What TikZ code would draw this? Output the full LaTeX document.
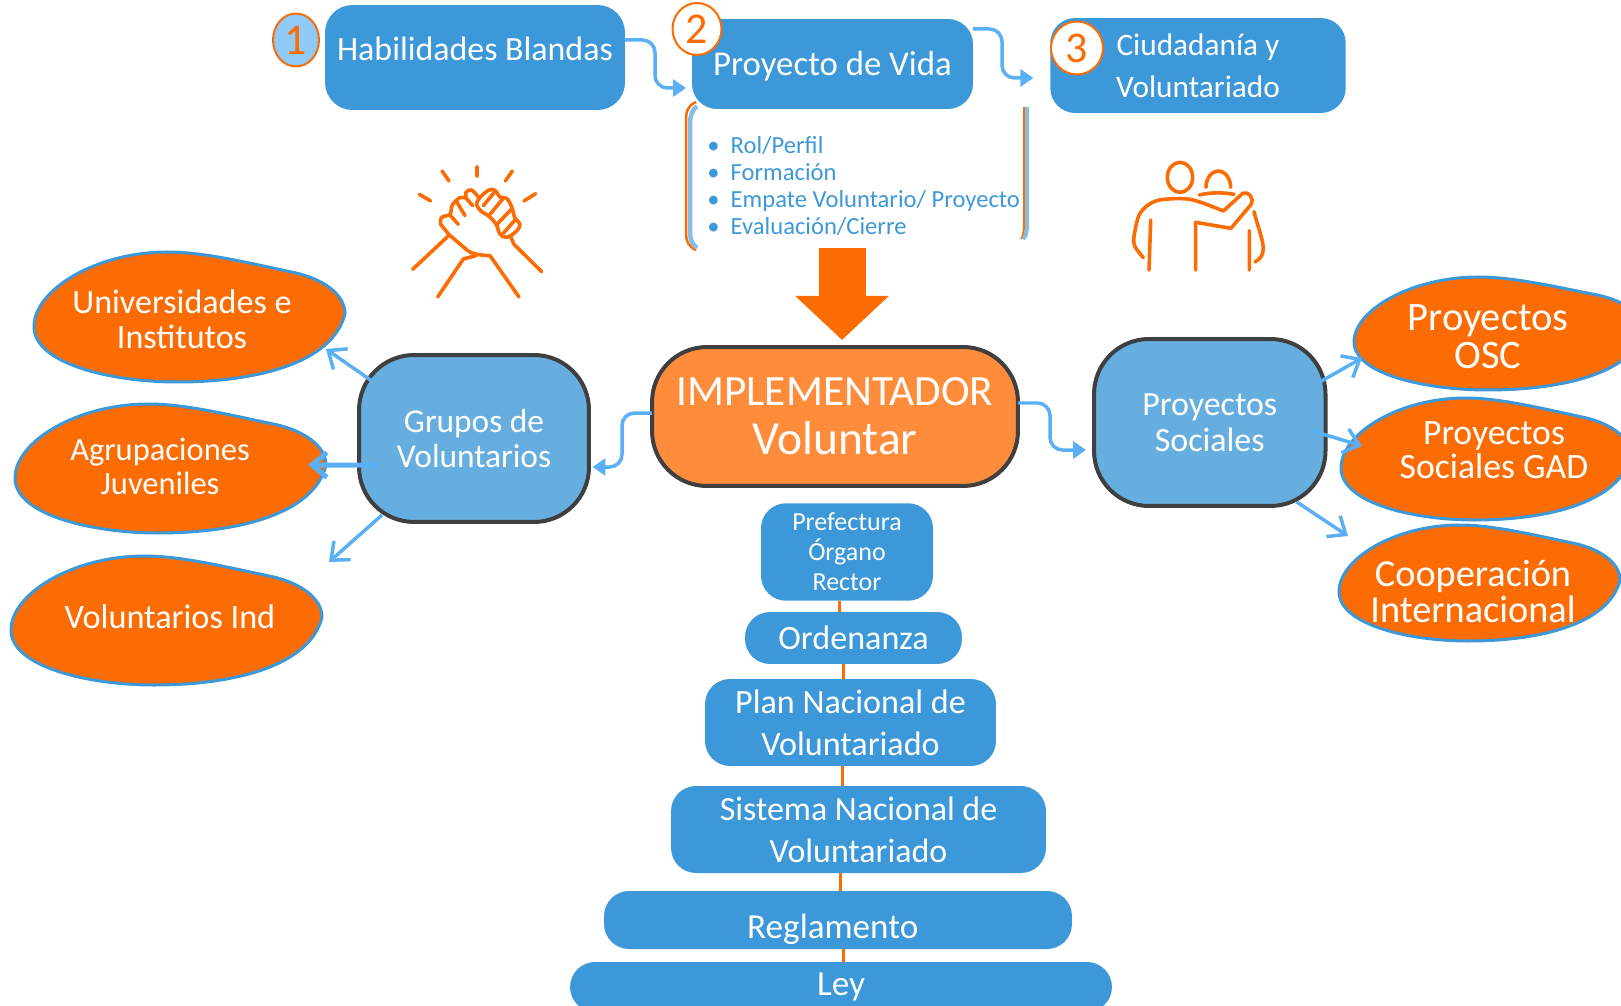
\documentclass[tikz,border=0pt]{standalone}
\usepackage{fontspec}
\setmainfont{Carlito}
\usepackage{xcolor}
\usetikzlibrary{arrows.meta,positioning,shapes.geometric}

\definecolor{boxblue}{HTML}{3C98D8}
\definecolor{softblue}{HTML}{66AEDF}
\definecolor{flowblue}{HTML}{5BB0F5}
\definecolor{pale}{HTML}{90CAF9}
\definecolor{deeporange}{HTML}{FC6C04}
\definecolor{softorange}{HTML}{FF8C3B}
\definecolor{edgegray}{HTML}{3F3F3F}

\newcommand{\fsz}[2]{\fontsize{#1}{#2}\selectfont}
\newcommand{\blobshape}[4]{\draw[blob line,shift={(#1,#2)},xscale=#3,yscale=#4] (-1,.15) .. controls (-1,.72) and (-.5,1) .. (-.08,1) .. controls (.42,1) and (.92,.72) .. (1,-.05) .. controls (1,-.35) and (.86,-.58) .. (.68,-.68) .. controls (.4,-.82) and (.1,-1) .. (-.14,-1) .. controls (-.6,-1) and (-1,-.42) .. (-1,.15) -- cycle;}

\begin{document}
\begin{tikzpicture}[x=.02cm,y=-.02cm,
		main node/.style={rectangle,rounded corners=.5cm,fill=boxblue,text=white,align=center,inner sep=0pt,outer sep=0pt},
		core node/.style={rectangle,rounded corners=1.1cm,draw=edgegray,line width=.08cm,text=white,align=center,inner sep=0pt,outer sep=0pt},
		blob line/.style={fill=deeporange,draw=boxblue,line width=.06cm},
		blob text/.style={text=white,align=center,inner sep=0pt},
		num node/.style={ellipse,draw=deeporange,line width=.04cm,text=deeporange,inner sep=0pt,font=\fsz{25}{28}},
		flow/.style={draw=flowblue,line width=.07cm,rounded corners=.25cm,-{Triangle[length=.26cm,width=.34cm]}},
		barb/.style={draw=flowblue,line width=.07cm,-{Straight Barb[length=.3cm,width=.5cm]}},
		stair/.style={draw=deeporange,line width=.06cm},
		icon/.style={draw=deeporange,line width=.072cm,line cap=round,line join=round}]

		\useasboundingbox (0,0) rectangle (1621,1006);
		\clip (0,0) rectangle (1621,1006);

		\node[main node,minimum width=6cm,minimum height=2.1cm,rounded corners=.55cm,font=\fsz{19.3}{23},text height=9pt,text depth=6pt] (habil) at (475,57.5) {Habilidades Blandas};
		\node[main node,minimum width=5.62cm,minimum height=1.8cm,font=\fsz{19.8}{24},text height=16.3pt,text depth=2.8pt] (vida) at (832.5,64) {Proyecto de Vida};
		\node[main node,minimum width=5.91cm,minimum height=1.9cm,font=\fsz{17.8}{23.8}] (ciud) at (1198,65.5) {Ciudadanía y\\Voluntariado};

		\node[num node,fill=pale,minimum width=.92cm,minimum height=1.06cm] (one) at (296,40) {1};
		\node[num node,fill=white,minimum width=.98cm,minimum height=1.04cm] (two) at (697,29) {2};
		\node[num node,fill=white,minimum width=1.04cm,minimum height=1.06cm] (three) at (1077,48) {3};

		\node[anchor=west,align=left,text=boxblue,inner sep=0pt,font=\fsz{14}{15.3}] (lista) at (707,186) {•\ \ Rol/Perfil\\•\ \ Formación\\•\ \ Empate Voluntario/ Proyecto\\•\ \ Evaluación/Cierre};
		\draw[deeporange,line width=.05cm] (696,102) .. controls (687,106) and (686,112) .. (686,122) -- (686,232) .. controls (686,242) and (689,247) .. (696,250);
		\draw[softblue!80,line width=.09cm] (697,106) .. controls (692,110) and (690,116) .. (690,124) -- (690,230) .. controls (690,240) and (692,244) .. (697,248);
		\draw[deeporange,line width=.04cm] (1024,107) -- (1024,225) .. controls (1024,232) and (1023,236) .. (1021,239);
		\draw[softblue!80,line width=.08cm] (1027,107) -- (1027,225) .. controls (1027,232) and (1026,236) .. (1023,239);

		\node[core node,fill=softorange,minimum width=7.32cm,minimum height=2.78cm,font=\fsz{24.6}{28}] (impl) at (835,416.5) {IMPLEMENTADOR\\{\fsz{27}{28}Voluntar}};
		\node[core node,fill=softblue,minimum width=4.6cm,minimum height=3.34cm,font=\fsz{19}{20}] (grupos) at (474,438.5) {Grupos de\\Voluntarios};
		\node[core node,fill=softblue,minimum width=4.63cm,minimum height=3.34cm,font=\fsz{19.3}{20.5}] (social) at (1209.75,422.5) {Proyectos\\Sociales};

		\blobshape{189.5}{317}{155.5}{65}
		\node[blob text,font=\fsz{19.4}{20}] (uni) at (182,319.5) {Universidades e\\Institutos};
		\blobshape{170.5}{468.5}{155.5}{64.5}
		\node[blob text,font=\fsz{18.5}{19}] (agrup) at (160,466.5) {Agrupaciones\\Juveniles};
		\blobshape{166.5}{620.5}{155.5}{64.5}
		\node[blob text,font=\fsz{19.5}{20}] (indiv) at (170,617) {Voluntarios Ind};
		\blobshape{1499}{333.5}{145}{56.5}
		\node[blob text,font=\fsz{23}{21.5}] (osc) at (1488,337) {Proyectos\\OSC};
		\blobshape{1486}{459}{145}{61}
		\node[blob text,font=\fsz{20.3}{19.5}] (gad) at (1494,450) {Proyectos\\Sociales GAD};
		\blobshape{1479.5}{583}{140.5}{58}
		\node[blob text,font=\fsz{21.8}{21}] (coop) at (1473,591.5) {Cooperación\\Internacional};

		\node[main node,minimum width=3.44cm,minimum height=1.95cm,font=\fsz{14.8}{17}] (prefec) at (847,552) {Prefectura\\Órgano\\Rector};
		\node[main node,minimum width=4.34cm,minimum height=1.04cm,font=\fsz{19.4}{22}] (orden) at (853.5,638) {Ordenanza};
		\node[main node,minimum width=5.82cm,minimum height=1.74cm,font=\fsz{19.4}{24}] (plan) at (850.5,722.5) {Plan Nacional de\\Voluntariado};
		\node[main node,minimum width=7.5cm,minimum height=1.74cm,font=\fsz{19.3}{24}] (sistema) at (858.5,829.5) {Sistema Nacional de\\Voluntariado};
		\node[main node,minimum width=9.36cm,minimum height=1.16cm,font=\fsz{20}{22},text height=24pt,text depth=3.2pt] (regla) at (838,920) {\hspace{-6pt}Reglamento};
		\node[main node,minimum width=10.84cm,minimum height=1cm,font=\fsz{20}{22}] (ley) at (841,987) {Ley};

		\draw[stair] (prefec.south -| 839,0) -- (orden.north -| 839,0);
		\draw[stair] (orden.south -| 843,0) -- (plan.north -| 843,0);
		\draw[stair] (plan.south -| 842,0) -- (sistema.north -| 842,0);
		\draw[stair] (sistema.south -| 840,0) -- (regla.north -| 840,0);
		\draw[stair] (regla.south -| 843,0) -- (ley.north -| 843,0);

		\draw[flow,shorten >=3.4pt] (habil.east |- 0,40) -| (655,88) -- (vida.west |- 0,88);
		\draw[flow,shorten >=9.6pt] (vida.east |- 0,29) -| (1002,78) -- (ciud.west |- 0,78);
		\draw[flow,shorten >=2pt] (impl.west |- 0,413) -| (622,467) -- (grupos.east |- 0,467);
		\draw[flow,shorten >=4.5pt] (impl.east |- 0,403) -| (1050,450) -- (social.west |- 0,450);

		\coordinate (arrowtop) at (842,248);
		\draw[deeporange,line width=.94cm,shorten >=4pt,-{Triangle[length=.88cm,width=1.82cm]}] (arrowtop) -- (impl.north -| arrowtop);

		\draw[barb] ([shift={(-102,-57.5)}]grupos.center) -- ([shift={(144,29.5)}]uni.center);
		\draw[barb,line width=.1cm] ([shift={(-95,26.5)}]grupos.center) -- ([shift={(148,-1.5)}]agrup.center);
		\draw[barb] ([shift={(-92,76.5)}]grupos.center) -- ([shift={(159,-55)}]indiv.center);
		\draw[barb] ([shift={(110,-40.5)}]social.center) -- ([shift={(-126,21)}]osc.center);
		\draw[barb] ([shift={(103,8.5)}]social.center) -- ([shift={(-132,-4)}]gad.center);
		\draw[barb] ([shift={(87,79.5)}]social.center) -- ([shift={(-125,-55.5)}]coop.center);

		\begin{scope}[shift={(400,155)},scale=.3333]
			\draw[icon] (58,118) -- (92,138) (126,48) -- (147,78) (231,35) -- (231,64) (337,48) -- (316,78) (407,116) -- (372,138);
			\draw[icon] (38,343) -- (148,240);
			\draw[icon] (113,426) -- (190,312) -- (228,302);
			\draw[icon] (357,426) -- (270,302) .. controls (240,300) and (215,300) .. (195,280) -- (148,240) -- (122,208);
			\draw[icon] (425,350) -- (342,268) -- (332,245);
			\draw[icon] plot[smooth,tension=.6] coordinates {(122,208) (125,187) (150,178) (157,150) (180,128) (197,128) (198,112) (215,105) (238,130)};
			\draw[icon] (150,180) -- (175,208) (170,140) -- (195,182) (197,128) -- (218,152);
			\draw[icon] plot[smooth cycle,tension=.6] coordinates {(238,130) (265,106) (285,106) (300,126) (320,130) (335,155) (345,190) (360,207) (350,228) (320,247) (300,237) (288,207) (265,182) (245,170) (230,150)};
			\draw[icon] (250,152) -- (283,112) (270,178) -- (308,132) (292,207) -- (335,162) (310,235) -- (345,195);
		\end{scope}

		\begin{scope}[shift={(1120,150)},scale=.3333]
			\draw[icon] (180,82) ellipse [x radius=38,y radius=45];
			\draw[icon] (258,112) .. controls (258,85) and (275,63) .. (295,63) .. controls (315,63) and (332,85) .. (332,112);
			\draw[icon] (238,135) .. controls (270,127) and (310,127) .. (342,133);
			\draw[icon] plot[smooth,tension=.5] coordinates {(70,323) (45,290) (42,260) (60,190) (110,152) (210,148) (310,183)};
			\draw[icon] (310,183) -- (368,130) .. controls (385,122) and (405,145) .. (392,165) -- (333,235) -- (227,217) -- (227,360);
			\draw[icon] (92,210) -- (87,360) (388,242) -- (388,360);
			\draw[icon] (402,185) .. controls (415,235) and (428,265) .. (430,295) .. controls (430,315) and (420,328) .. (405,336);
		\end{scope}

		\end{tikzpicture}
\end{document}
